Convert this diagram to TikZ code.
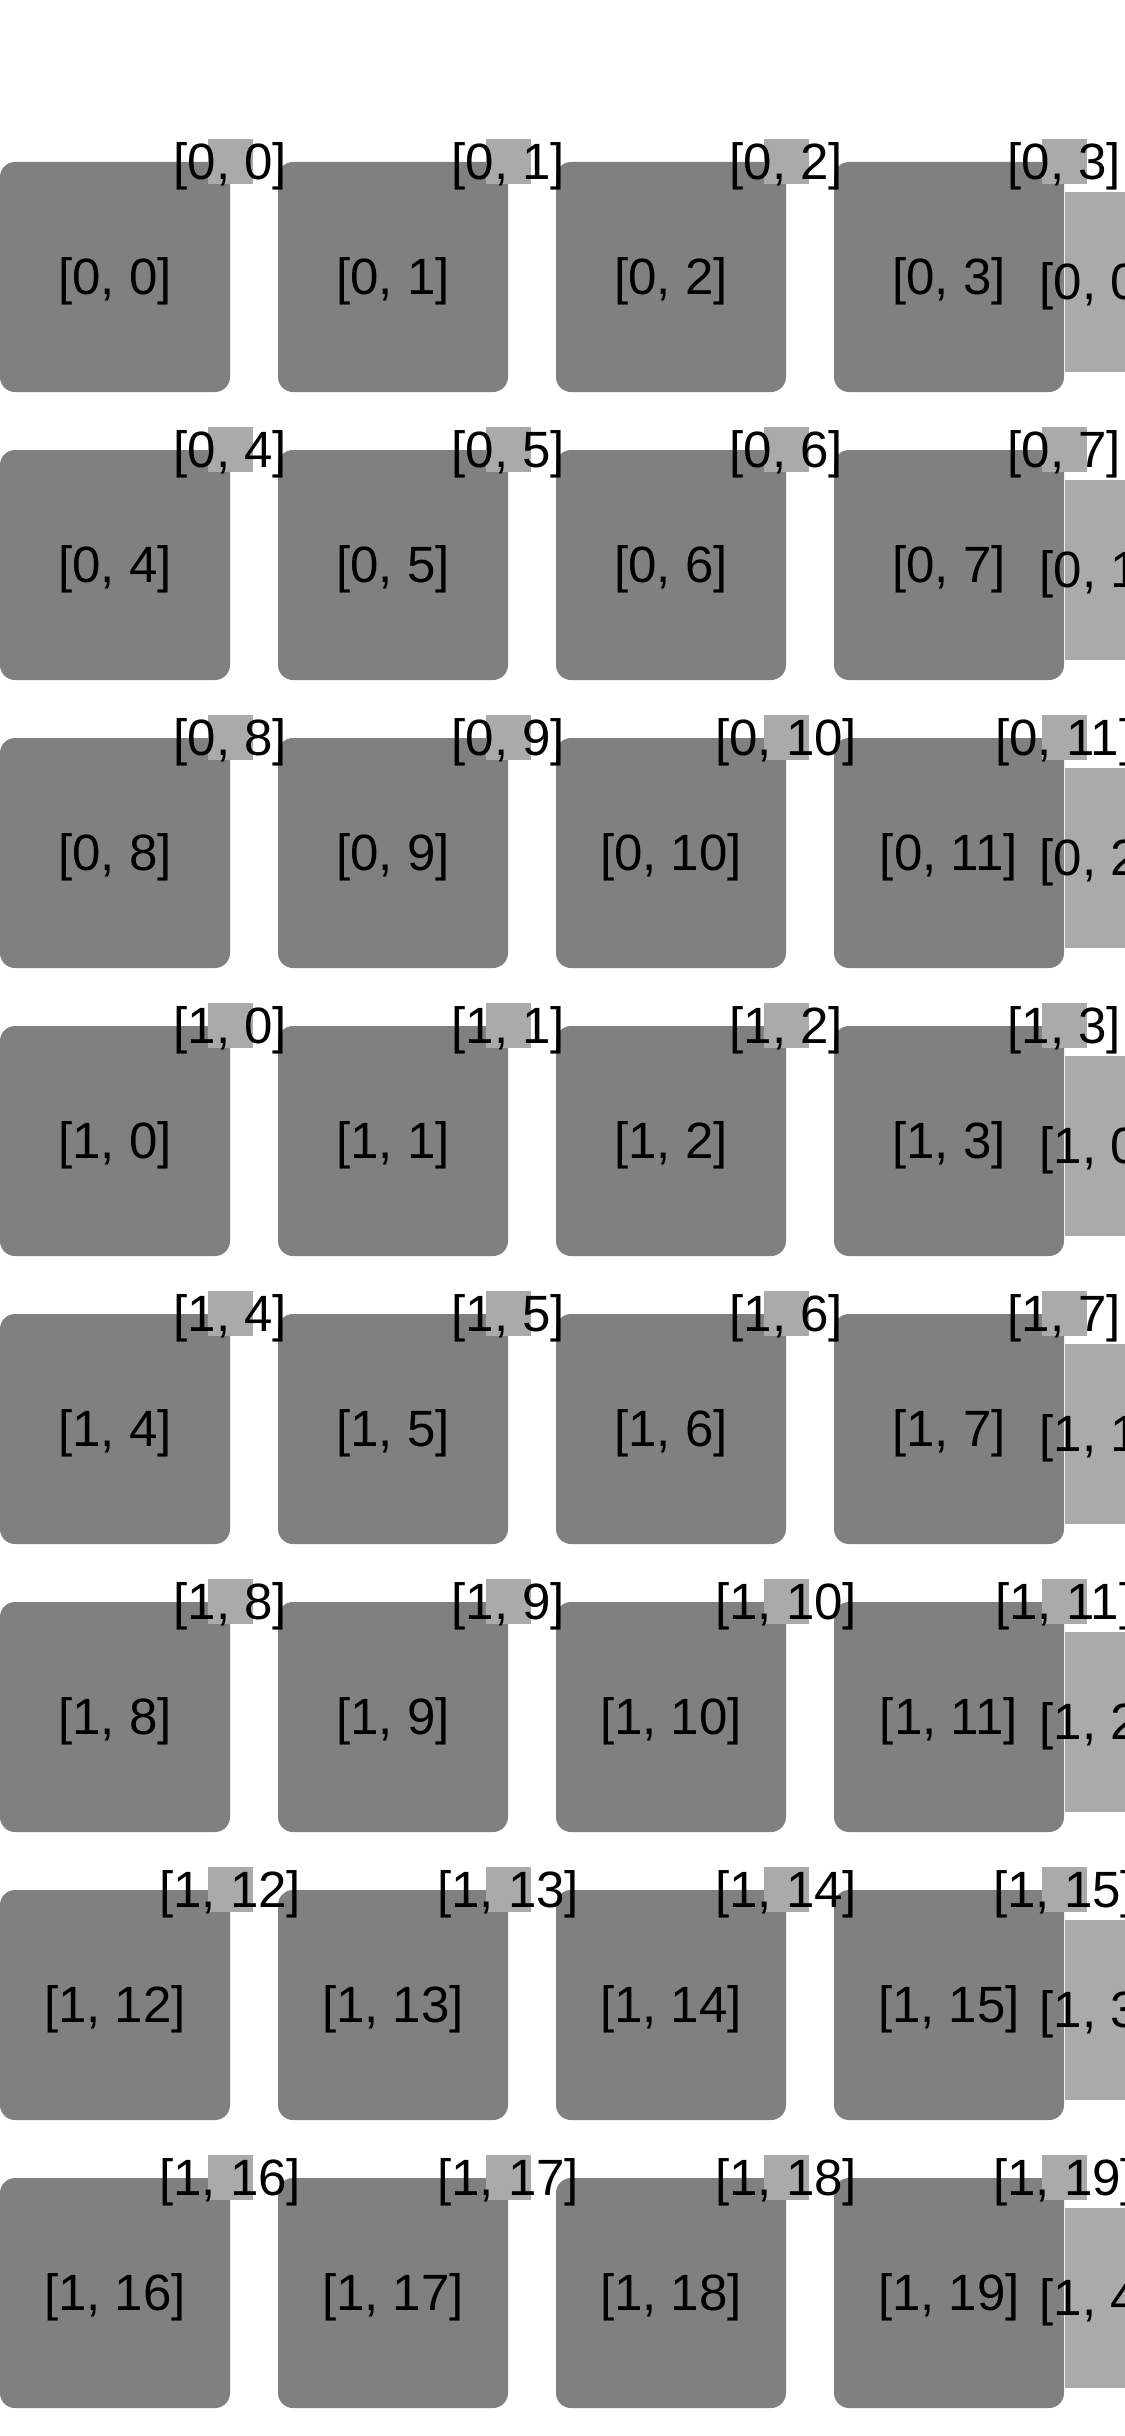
\documentclass[tikz,border=0pt]{standalone}
\usepackage[dvipsnames]{xcolor}
\usepackage{fontspec}
\setmainfont{Liberation Sans}
\usepackage{tikz}
\usetikzlibrary{positioning}
\definecolor{cellgray}{gray}{0.5}
\definecolor{marklight}{gray}{0.667}
\tikzset{
  cell/.style={
    shape = rectangle,
    fill = cellgray,
    rounded corners = 0.5cm,
    minimum width = 7.6667cm,
    minimum height = 7.6667cm,
    text height = 1.54cm,
    text depth = 0.36cm,
    inner sep = 0pt
  },
  corner/.style={
    shape = rectangle,
    fill = marklight,
    minimum size = 1.5cm,
    inner sep = 0pt
  },
  idx/.style={
    text height = 1.54cm,
    text depth = 0.36cm,
    inner sep = 0pt
  },
  every picture/.style = {
    font = \fontsize{48.4}{58}\selectfont
  }
}
\begin{document}
\begin{tikzpicture}
                \useasboundingbox (0.0,0.0) rectangle (37.5,-81.2);
                \clip (0.0,0.0) rectangle (37.5,-81.2);

                % row 0
                \node[cell] (b00) at (3.8333,-9.2333) {[0, 0]};
                \node[cell] (b01) at (13.1,-9.2333) {[0, 1]};
                \node[cell] (b02) at (22.3667,-9.2333) {[0, 2]};
                \node[cell] (b03) at (31.6333,-9.2333) {[0, 3]};
                \fill[marklight] (35.5,-6.4) rectangle (37.6,-12.4);
                \node[idx] (u0) at (36.55,-9.4) {[0, 0]};
                \node[corner] (q00) at (b00.north east) {};
                \node[corner] (q01) at (b01.north east) {};
                \node[corner] (q02) at (b02.north east) {};
                \node[corner] (q03) at (b03.north east) {};
                \node[idx] (t00) at (b00.north east) {[0, 0]};
                \node[idx] (t01) at (b01.north east) {[0, 1]};
                \node[idx] (t02) at (b02.north east) {[0, 2]};
                \node[idx] (t03) at (b03.north east) {[0, 3]};

                % row 1
                \node[cell] (b10) at (3.8333,-18.8333) {[0, 4]};
                \node[cell] (b11) at (13.1,-18.8333) {[0, 5]};
                \node[cell] (b12) at (22.3667,-18.8333) {[0, 6]};
                \node[cell] (b13) at (31.6333,-18.8333) {[0, 7]};
                \fill[marklight] (35.5,-16.0) rectangle (37.6,-22.0);
                \node[idx] (u1) at (36.55,-19.0) {[0, 1]};
                \node[corner] (q10) at (b10.north east) {};
                \node[corner] (q11) at (b11.north east) {};
                \node[corner] (q12) at (b12.north east) {};
                \node[corner] (q13) at (b13.north east) {};
                \node[idx] (t10) at (b10.north east) {[0, 4]};
                \node[idx] (t11) at (b11.north east) {[0, 5]};
                \node[idx] (t12) at (b12.north east) {[0, 6]};
                \node[idx] (t13) at (b13.north east) {[0, 7]};

                % row 2
                \node[cell] (b20) at (3.8333,-28.4333) {[0, 8]};
                \node[cell] (b21) at (13.1,-28.4333) {[0, 9]};
                \node[cell] (b22) at (22.3667,-28.4333) {[0, 10]};
                \node[cell] (b23) at (31.6333,-28.4333) {[0, 11]};
                \fill[marklight] (35.5,-25.6) rectangle (37.6,-31.6);
                \node[idx] (u2) at (36.55,-28.6) {[0, 2]};
                \node[corner] (q20) at (b20.north east) {};
                \node[corner] (q21) at (b21.north east) {};
                \node[corner] (q22) at (b22.north east) {};
                \node[corner] (q23) at (b23.north east) {};
                \node[idx] (t20) at (b20.north east) {[0, 8]};
                \node[idx] (t21) at (b21.north east) {[0, 9]};
                \node[idx] (t22) at (b22.north east) {[0, 10]};
                \node[idx] (t23) at (b23.north east) {[0, 11]};

                % row 3
                \node[cell] (b30) at (3.8333,-38.0333) {[1, 0]};
                \node[cell] (b31) at (13.1,-38.0333) {[1, 1]};
                \node[cell] (b32) at (22.3667,-38.0333) {[1, 2]};
                \node[cell] (b33) at (31.6333,-38.0333) {[1, 3]};
                \fill[marklight] (35.5,-35.2) rectangle (37.6,-41.2);
                \node[idx] (u3) at (36.55,-38.2) {[1, 0]};
                \node[corner] (q30) at (b30.north east) {};
                \node[corner] (q31) at (b31.north east) {};
                \node[corner] (q32) at (b32.north east) {};
                \node[corner] (q33) at (b33.north east) {};
                \node[idx] (t30) at (b30.north east) {[1, 0]};
                \node[idx] (t31) at (b31.north east) {[1, 1]};
                \node[idx] (t32) at (b32.north east) {[1, 2]};
                \node[idx] (t33) at (b33.north east) {[1, 3]};

                % row 4
                \node[cell] (b40) at (3.8333,-47.6333) {[1, 4]};
                \node[cell] (b41) at (13.1,-47.6333) {[1, 5]};
                \node[cell] (b42) at (22.3667,-47.6333) {[1, 6]};
                \node[cell] (b43) at (31.6333,-47.6333) {[1, 7]};
                \fill[marklight] (35.5,-44.8) rectangle (37.6,-50.8);
                \node[idx] (u4) at (36.55,-47.8) {[1, 1]};
                \node[corner] (q40) at (b40.north east) {};
                \node[corner] (q41) at (b41.north east) {};
                \node[corner] (q42) at (b42.north east) {};
                \node[corner] (q43) at (b43.north east) {};
                \node[idx] (t40) at (b40.north east) {[1, 4]};
                \node[idx] (t41) at (b41.north east) {[1, 5]};
                \node[idx] (t42) at (b42.north east) {[1, 6]};
                \node[idx] (t43) at (b43.north east) {[1, 7]};

                % row 5
                \node[cell] (b50) at (3.8333,-57.2333) {[1, 8]};
                \node[cell] (b51) at (13.1,-57.2333) {[1, 9]};
                \node[cell] (b52) at (22.3667,-57.2333) {[1, 10]};
                \node[cell] (b53) at (31.6333,-57.2333) {[1, 11]};
                \fill[marklight] (35.5,-54.4) rectangle (37.6,-60.4);
                \node[idx] (u5) at (36.55,-57.4) {[1, 2]};
                \node[corner] (q50) at (b50.north east) {};
                \node[corner] (q51) at (b51.north east) {};
                \node[corner] (q52) at (b52.north east) {};
                \node[corner] (q53) at (b53.north east) {};
                \node[idx] (t50) at (b50.north east) {[1, 8]};
                \node[idx] (t51) at (b51.north east) {[1, 9]};
                \node[idx] (t52) at (b52.north east) {[1, 10]};
                \node[idx] (t53) at (b53.north east) {[1, 11]};

                % row 6
                \node[cell] (b60) at (3.8333,-66.8333) {[1, 12]};
                \node[cell] (b61) at (13.1,-66.8333) {[1, 13]};
                \node[cell] (b62) at (22.3667,-66.8333) {[1, 14]};
                \node[cell] (b63) at (31.6333,-66.8333) {[1, 15]};
                \fill[marklight] (35.5,-64.0) rectangle (37.6,-70.0);
                \node[idx] (u6) at (36.55,-67.0) {[1, 3]};
                \node[corner] (q60) at (b60.north east) {};
                \node[corner] (q61) at (b61.north east) {};
                \node[corner] (q62) at (b62.north east) {};
                \node[corner] (q63) at (b63.north east) {};
                \node[idx] (t60) at (b60.north east) {[1, 12]};
                \node[idx] (t61) at (b61.north east) {[1, 13]};
                \node[idx] (t62) at (b62.north east) {[1, 14]};
                \node[idx] (t63) at (b63.north east) {[1, 15]};

                % row 7
                \node[cell] (b70) at (3.8333,-76.4333) {[1, 16]};
                \node[cell] (b71) at (13.1,-76.4333) {[1, 17]};
                \node[cell] (b72) at (22.3667,-76.4333) {[1, 18]};
                \node[cell] (b73) at (31.6333,-76.4333) {[1, 19]};
                \fill[marklight] (35.5,-73.6) rectangle (37.6,-79.6);
                \node[idx] (u7) at (36.55,-76.6) {[1, 4]};
                \node[corner] (q70) at (b70.north east) {};
                \node[corner] (q71) at (b71.north east) {};
                \node[corner] (q72) at (b72.north east) {};
                \node[corner] (q73) at (b73.north east) {};
                \node[idx] (t70) at (b70.north east) {[1, 16]};
                \node[idx] (t71) at (b71.north east) {[1, 17]};
                \node[idx] (t72) at (b72.north east) {[1, 18]};
                \node[idx] (t73) at (b73.north east) {[1, 19]};
    \end{tikzpicture}
\end{document}
